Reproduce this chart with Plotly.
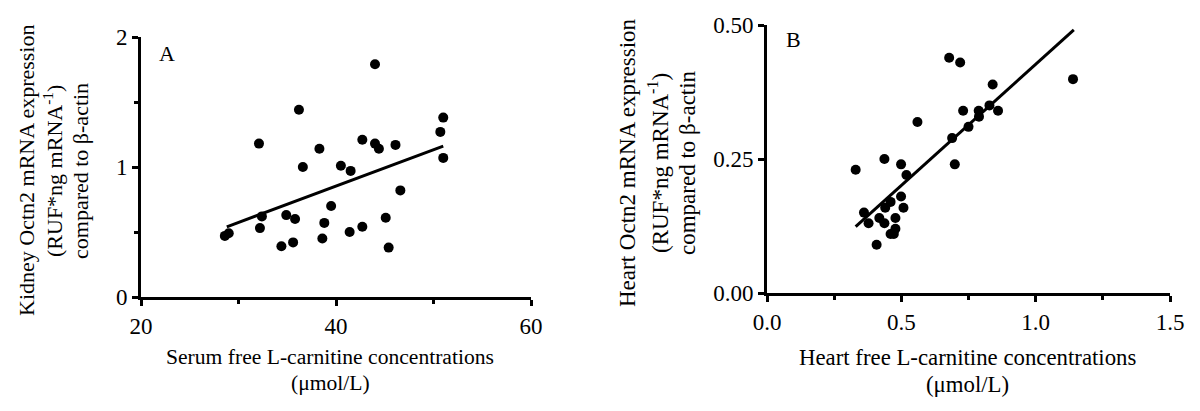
import plotly.graph_objects as go

# Panel A: serum free L-carnitine vs kidney Octn2 mRNA
a_x = [28.6, 29.0, 32.1, 32.2, 32.4, 34.4, 34.9, 35.6, 35.8, 36.2, 36.6, 38.3, 38.6, 38.8, 39.5,
       40.5, 41.4, 41.5, 42.7, 42.7, 44.0, 44.0, 44.4, 45.1, 45.4, 46.1, 46.6, 50.7, 51.0, 51.0]
a_y = [0.47, 0.49, 1.18, 0.53, 0.62, 0.39, 0.63, 0.42, 0.60, 1.44, 1.00, 1.14, 0.45, 0.57, 0.70,
       1.01, 0.50, 0.97, 1.21, 0.54, 1.79, 1.18, 1.14, 0.61, 0.38, 1.17, 0.82, 1.27, 1.38, 1.07]
a_fit_x = [28.8, 51.0]
a_fit_y = [0.54, 1.16]

# Panel B: heart free L-carnitine vs heart Octn2 mRNA
b_x = [0.330, 0.361, 0.378, 0.408, 0.418, 0.437, 0.437, 0.440, 0.460, 0.460, 0.472, 0.478, 0.478,
       0.499, 0.499, 0.508, 0.519, 0.560, 0.678, 0.689, 0.699, 0.719, 0.730, 0.750, 0.788, 0.789,
       0.828, 0.840, 0.860, 1.139]
b_y = [0.230, 0.150, 0.130, 0.090, 0.140, 0.250, 0.130, 0.159, 0.170, 0.110, 0.110, 0.140, 0.120,
       0.240, 0.180, 0.159, 0.220, 0.319, 0.439, 0.289, 0.240, 0.430, 0.340, 0.310, 0.340, 0.329,
       0.350, 0.389, 0.340, 0.399]
b_fit_x = [0.330, 1.142]
b_fit_y = [0.124, 0.491]

FONT = "Liberation Serif, Times New Roman, serif"

fig = go.Figure()
fig.add_trace(go.Scatter(x=a_x, y=a_y, mode="markers", xaxis="x", yaxis="y",
                         marker=dict(size=10, color="black"), cliponaxis=False, showlegend=False))
fig.add_trace(go.Scatter(x=a_fit_x, y=a_fit_y, mode="lines", xaxis="x", yaxis="y",
                         line=dict(color="black", width=3), cliponaxis=False, showlegend=False))
fig.add_trace(go.Scatter(x=b_x, y=b_y, mode="markers", xaxis="x2", yaxis="y2",
                         marker=dict(size=10, color="black"), cliponaxis=False, showlegend=False))
fig.add_trace(go.Scatter(x=b_fit_x, y=b_fit_y, mode="lines", xaxis="x2", yaxis="y2",
                         line=dict(color="black", width=3), cliponaxis=False, showlegend=False))

# the page body has an 8px margin; size the figure so it fits the 1200x411 window
OFF = 8
W, H = 1200 - 2 * OFF, 411 - 2 * OFF
def px_x(p): return (p - OFF) / W
def px_y(p): return 1 - (p - OFF) / H

def common(size):
    return dict(showline=True, linecolor="black", linewidth=3, showgrid=False, zeroline=False,
                ticks="outside", tickcolor="black", tickwidth=3, ticklen=6, automargin=False,
                tickfont=dict(family=FONT, size=size, color="black"))

minor_style = dict(ticks="outside", ticklen=4, tickwidth=3, tickcolor="black")

fig.update_layout(
    width=W, height=H, margin=dict(l=0, r=0, t=0, b=0, pad=0, autoexpand=False),
    paper_bgcolor="white", plot_bgcolor="white",
    font=dict(family=FONT, color="black"),
    showlegend=False,
    xaxis=dict(domain=[px_x(141), px_x(531)], range=[20, 60], dtick=20, tick0=20,
               minor=dict(dtick=10, **minor_style), anchor="y", **common(23)),
    yaxis=dict(domain=[px_y(297), px_y(37)], range=[0, 2], dtick=1,
               minor=dict(dtick=0.5, **minor_style), anchor="x", **common(23)),
    xaxis2=dict(domain=[px_x(767), px_x(1170)], range=[0, 1.5], dtick=0.5, tickformat=".1f",
                minor=dict(dtick=0.25, **minor_style), anchor="y2", **common(23)),
    yaxis2=dict(domain=[px_y(293), px_y(25)], range=[0, 0.5], dtick=0.25, tickformat=".2f",
                anchor="x2", **common(23)),
)

def font(size):
    return dict(family=FONT, size=size, color="black")

anns = [
    dict(text="A", x=167, y=54, font=font(22)),
    dict(text="B", x=793, y=40, font=font(22)),
    dict(text="Serum free L-carnitine concentrations", x=330, y=357, font=font(21.6)),
    dict(text="(μmol/L)", x=330, y=383, font=font(21.6)),
    dict(text="Heart free L-carnitine concentrations", x=967, y=357, font=font(22.8)),
    dict(text="(μmol/L)", x=967, y=384, font=font(22.8)),
    dict(text="Kidney Octn2 mRNA expression", x=26, y=171, textangle=-90, font=font(22)),
    dict(text="(RUF*ng mRNA<sup>-1</sup>)", x=53, y=171, textangle=-90, font=font(22)),
    dict(text="compared to β-actin", x=80, y=171, textangle=-90, font=font(22)),
    dict(text="Heart Octn2 mRNA expression", x=627, y=163, textangle=-90, font=font(23)),
    dict(text="(RUF*ng mRNA<sup>-1</sup>)", x=658, y=163, textangle=-90, font=font(23)),
    dict(text="compared to β-actin", x=687, y=163, textangle=-90, font=font(23)),
]
for a in anns:
    fig.add_annotation(xref="paper", yref="paper", showarrow=False, xanchor="center",
                       yanchor="middle", align="center",
                       text=a["text"], x=px_x(a["x"]), y=px_y(a["y"]), font=a["font"],
                       textangle=a.get("textangle", 0))

fig.write_html("out.html")
